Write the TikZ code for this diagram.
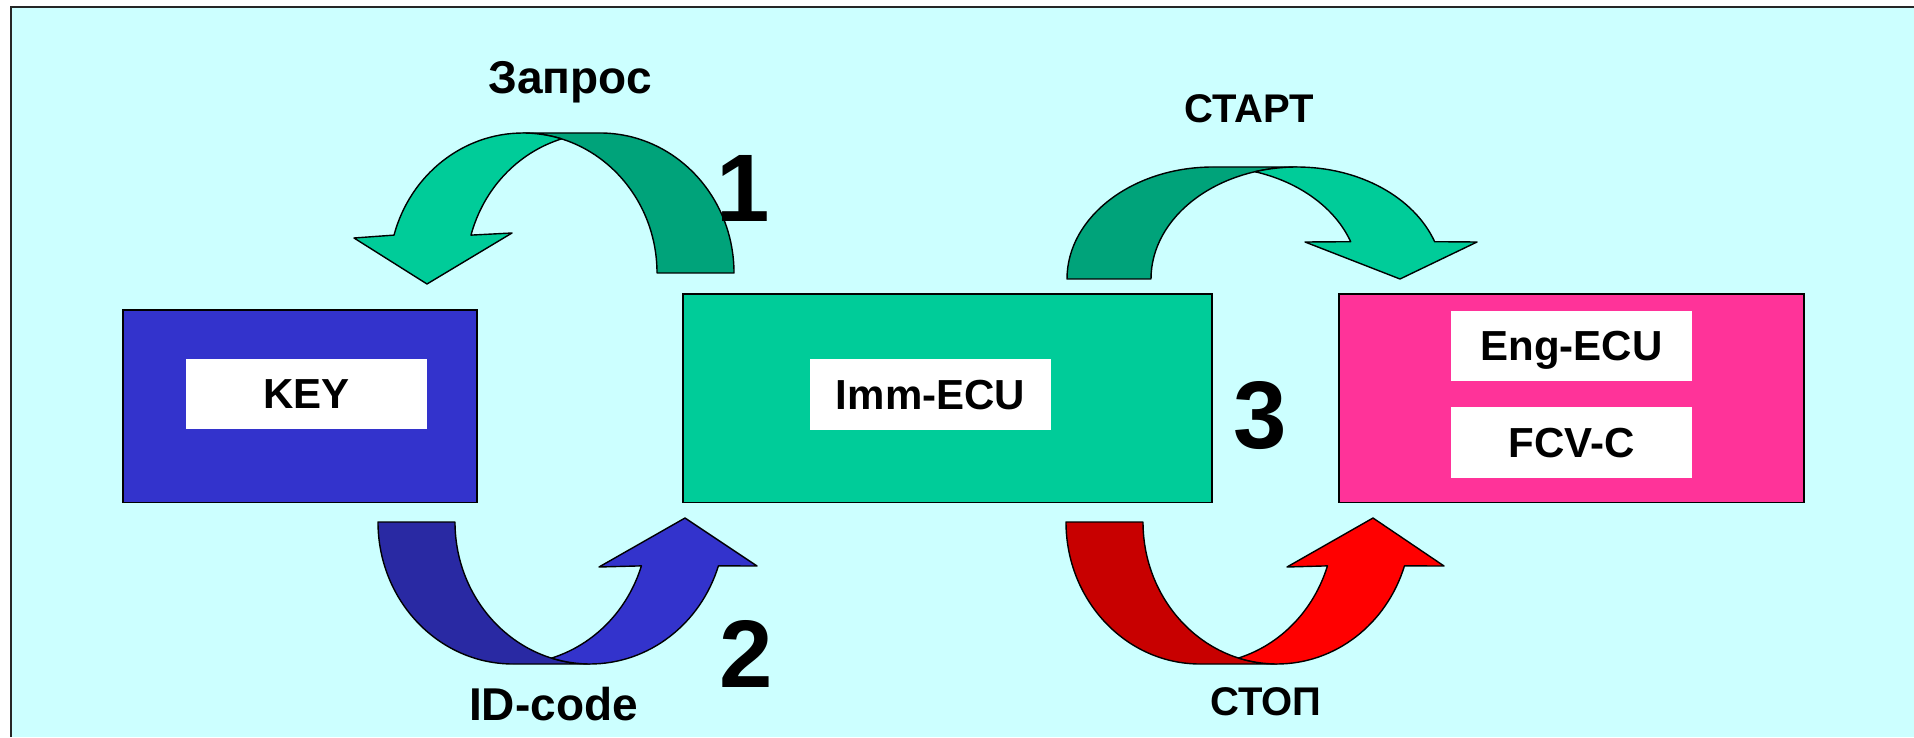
\documentclass[tikz,border=0pt]{standalone}
\usepackage{fontspec}
\setmainfont{Liberation Sans}
\usetikzlibrary{calc}
\definecolor{bgcyan}{HTML}{CCFFFF}
\definecolor{keyblue}{HTML}{3333CC}
\definecolor{immgreen}{HTML}{00CC99}
\definecolor{engpink}{HTML}{FF3399}
\definecolor{greenfront}{HTML}{00CC99}
\definecolor{greendark}{HTML}{00A37A}
\definecolor{bluefront}{HTML}{3333CC}
\definecolor{bluedark}{HTML}{2929A3}
\definecolor{redfront}{HTML}{FF0000}
\definecolor{reddark}{HTML}{C80000}
\begin{document}
\begin{tikzpicture}[x=1pt,y=1pt,
  box/.style={draw=black, line width=1.5pt, inner sep=0pt, anchor=south west},
  whitebox/.style={fill=white, inner sep=0pt, text depth=0pt, font=\bfseries\fontsize{42}{46}\selectfont},
  arr/.style={draw=black, line width=1.4pt, line join=round},
  bigl/.style={font=\bfseries\fontsize{46}{50}\selectfont, anchor=base, inner sep=0pt},
  smalll/.style={font=\bfseries\fontsize{40}{44}\selectfont, anchor=base, inner sep=0pt},
  num/.style={font=\bfseries\fontsize{96}{100}\selectfont, anchor=base, inner sep=0pt},
  ea/.style={x radius=134pt, y radius=140pt},
  eb/.style={x radius=146pt, y radius=112pt},
  ec/.style={x radius=135pt, y radius=142pt},
  ed/.style={x radius=134pt, y radius=142pt}]
\useasboundingbox (0,0) rectangle (1914,737);
\fill[white] (0,0) rectangle (1914,737);
\fill[bgcyan] (11,0) rectangle (1914,730);
\draw[line width=2pt, black!85] (11,0) -- (11,730) -- (1914,730);

% boxes
\node[box, fill=keyblue, minimum width=354pt, minimum height=192pt] (keybox) at (122,234) {};
\node[whitebox, minimum width=241pt, minimum height=70pt] (key) at (306.5,343) {KEY};
\node[box, fill=immgreen, minimum width=529pt, minimum height=208pt] (immbox) at (682,234) {};
\node[whitebox, minimum width=241pt, minimum height=71pt] (imm) at (930.5,342.5) {Imm-ECU};
\node[box, fill=engpink, minimum width=465pt, minimum height=208pt] (engbox) at (1338,234) {};
\node[whitebox, minimum width=241pt, minimum height=70pt] (eng) at (1571.5,391) {Eng-ECU};
\node[whitebox, minimum width=241pt, minimum height=71pt] (fcv) at (1571.5,294.5) {FCV-C};

% arrow 1 (request)
\coordinate (g1A) at (600,464);
\coordinate (g1B) at (523,464);
\path[arr, fill=greendark] ($(g1A)+(0:134 and 140)$) arc[ea, start angle=0, end angle=90]
  -- ($(g1B)+(90:134 and 140)$) arc[ea, start angle=90, end angle=0] -- cycle;
\path[arr, fill=greenfront] ($(g1B)+(90:134 and 140)$) arc[ea, start angle=90, end angle=164.3]
  -- (354,499) -- (427,453) -- (512,504)
  -- ($(g1A)+(164.3:134 and 140)$) arc[ea, start angle=164.3, end angle=106.7]
  arc[ea, start angle=73.3, end angle=90] -- cycle;

% arrow 2 (start)
\coordinate (g2A) at (1213,458);
\coordinate (g2B) at (1297,458);
\path[arr, fill=greendark] ($(g2A)+(180:146 and 112)$) arc[eb, start angle=180, end angle=90]
  -- ($(g2B)+(90:146 and 112)$) arc[eb, start angle=90, end angle=180] -- cycle;
\path[arr, fill=greenfront] ($(g2B)+(90:146 and 112)$) arc[eb, start angle=90, end angle=19.45]
  -- (1477,495) -- (1400,458) -- (1305,495)
  -- ($(g2A)+(19.45:146 and 112)$) arc[eb, start angle=19.45, end angle=73.3]
  arc[eb, start angle=106.7, end angle=90] -- cycle;

% arrow 3 (ID-code)
\coordinate (b3A) at (513,215);
\coordinate (b3B) at (590,215);
\path[arr, fill=bluedark] ($(b3A)+(180:135 and 142)$) arc[ec, start angle=180, end angle=270]
  -- ($(b3B)+(270:135 and 142)$) arc[ec, start angle=270, end angle=180] -- cycle;
\path[arr, fill=bluefront] ($(b3B)+(270:135 and 142)$) arc[ec, start angle=270, end angle=342]
  -- (757,171) -- (685,219) -- (599,170)
  -- ($(b3A)+(342:135 and 142)$) arc[ec, start angle=342, end angle=286.6]
  arc[ec, start angle=253.4, end angle=270] -- cycle;

% arrow 4 (stop)
\coordinate (r4A) at (1200,215);
\coordinate (r4B) at (1277,215);
\path[arr, fill=reddark] ($(r4A)+(180:134 and 142)$) arc[ed, start angle=180, end angle=270]
  -- ($(r4B)+(270:134 and 142)$) arc[ed, start angle=270, end angle=180] -- cycle;
\path[arr, fill=redfront] ($(r4B)+(270:134 and 142)$) arc[ed, start angle=270, end angle=342]
  -- (1444,171) -- (1373,219) -- (1287,170)
  -- ($(r4A)+(342:134 and 142)$) arc[ed, start angle=342, end angle=286.7]
  arc[ed, start angle=253.3, end angle=270] -- cycle;

% labels
\node[bigl] (zapros) at (570,643) {Запрос};
\node[smalll] (start) at (1249,614) {СТАРТ};
\node[bigl] (idcode) at (553.5,17) {ID-code};
\node[smalll] (stop) at (1266,22) {СТОП};
\node[num] (n1) at (743,515) {1};
\node[num] (n2) at (746,50) {2};
\node[num] (n3) at (1260,288) {3};
\end{tikzpicture}
\end{document}
